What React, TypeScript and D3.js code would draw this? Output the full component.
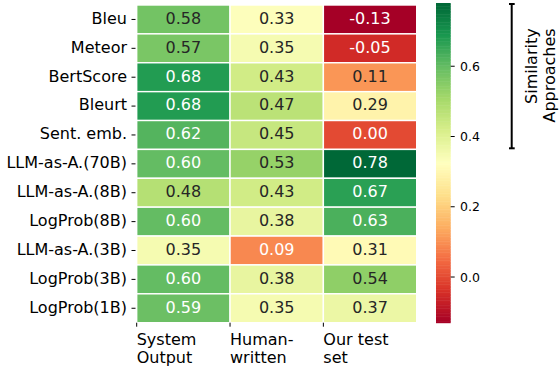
import React from 'react';
import * as d3 from 'd3';

// Row labels (metrics / judges)
const rows = [
  'Bleu',
  'Meteor',
  'BertScore',
  'Bleurt',
  'Sent. emb.',
  'LLM-as-A.(70B)',
  'LLM-as-A.(8B)',
  'LogProb(8B)',
  'LLM-as-A.(3B)',
  'LogProb(3B)',
  'LogProb(1B)',
];

// Column labels (two lines each)
const columns = [
  ['System', 'Output'],
  ['Human-', 'written'],
  ['Our test', 'set'],
];

const systemOutput = [0.58, 0.57, 0.68, 0.68, 0.62, 0.60, 0.48, 0.60, 0.35, 0.60, 0.59];
const humanWritten = [0.33, 0.35, 0.43, 0.47, 0.45, 0.53, 0.43, 0.38, 0.09, 0.38, 0.35];
const ourTestSet = [-0.13, -0.05, 0.11, 0.29, 0.0, 0.78, 0.67, 0.63, 0.31, 0.54, 0.37];

const colorbarTicks = [0.0, 0.2, 0.4, 0.6];

// matplotlib RdYlGn stops
const rdYlGn = [
  '#a50026', '#d73027', '#f46d43', '#fdae61', '#fee08b', '#ffffbf',
  '#d9ef8b', '#a6d96a', '#66bd63', '#1a9850', '#006837',
];

const FONT = 'DejaVu Sans, sans-serif';

// seaborn-style luminance test for the annotation colour
const luminance = (c: string) => {
  const rgb = d3.rgb(c);
  const lin = [rgb.r, rgb.g, rgb.b].map(v => {
    const s = v / 255;
    return s <= 0.03928 ? s / 12.92 : Math.pow((s + 0.055) / 1.055, 2.4);
  });
  return lin[0] * 0.2126 + lin[1] * 0.7152 + lin[2] * 0.0722;
};

const App = () => {
  const width = 560;
  const height = 368;

  const series = [systemOutput, humanWritten, ourTestSet];
  const allVals = series.flat();
  const colorMin = d3.min(allVals)!;
  const colorMax = d3.max(allVals)!;

  const color = d3.scaleLinear<string>()
    .domain(rdYlGn.map((_, i) => colorMin + (i / (rdYlGn.length - 1)) * (colorMax - colorMin)))
    .range(rdYlGn)
    .interpolate(d3.interpolateRgb)
    .clamp(true);

  const x = d3.scaleBand<number>()
    .domain(columns.map((_, i) => i))
    .range([136.7, 416.7]);

  const y = d3.scaleBand<string>()
    .domain(rows)
    .range([5, 322.7]);

  // colorbar
  const cbar = { x: 436, w: 14.7 };
  const cy = d3.scaleLinear().domain([colorMin, colorMax]).range([322.7, 3]);
  const steps = 200;
  const stepH = (colorMax - colorMin) / steps;
  const stepVals = d3.range(steps).map(i => colorMin + i * stepH);

  return (
    <svg width={width} height={height} style={{ position: 'absolute', left: 0, top: 0 }} fontFamily={FONT}>
      <rect width={width} height={height} fill="#fff" />

      {/* heatmap cells */}
      {series.map((vals, ci) =>
        vals.map((v, ri) => {
          const fill = color(v);
          const cx = x(ci)! + x.bandwidth() / 2;
          const yc = y(rows[ri])! + y.bandwidth() / 2;
          return (
            <g key={`${ci}-${ri}`}>
              <rect
                x={x(ci)}
                y={y(rows[ri])}
                width={x.bandwidth()}
                height={y.bandwidth()}
                fill={fill}
                stroke="#fff"
                strokeWidth={1.4}
              />
              <text
                x={cx}
                y={yc + 4.3}
                textAnchor="middle"
                fontSize={16}
                fill={luminance(fill) > 0.42 ? '#262626' : '#fff'}
              >
                {v.toFixed(2)}
              </text>
            </g>
          );
        })
      )}

      {/* y axis */}
      {rows.map(r => {
        const yc = y(r)! + y.bandwidth() / 2;
        return (
          <g key={r}>
            <line x1={131.5} x2={135.5} y1={yc} y2={yc} stroke="#000" strokeWidth={1} />
            <text x={127} y={yc + 4.3} textAnchor="end" fontSize={16} fill="#000">
              {r}
            </text>
          </g>
        );
      })}

      {/* x axis: ticks at the left edge of each column, labels left aligned */}
      {columns.map((lines, i) => {
        const tx = x(i)!;
        return (
          <g key={i}>
            <line x1={tx} x2={tx} y1={322.7} y2={326.7} stroke="#000" strokeWidth={1} />
            {lines.map((l, li) => (
              <text key={li} x={tx} y={345 + li * 17.5} fontSize={16} fill="#000">
                {l}
              </text>
            ))}
          </g>
        );
      })}

      {/* colorbar */}
      {stepVals.map((v, i) => (
        <rect
          key={i}
          x={cbar.x}
          y={cy(v + stepH)}
          width={cbar.w}
          height={cy(v) - cy(v + stepH) + 0.5}
          fill={color(v + stepH / 2)}
        />
      ))}
      {colorbarTicks.map(t => (
        <g key={t}>
          <line x1={cbar.x + cbar.w} x2={cbar.x + cbar.w + 4} y1={cy(t)} y2={cy(t)} stroke="#000" strokeWidth={1} />
          <text x={460} y={cy(t) + 4.5} fontSize={12.5} fill="#000">
            {t.toFixed(1)}
          </text>
        </g>
      ))}

      {/* bracket with rotated label */}
      <g stroke="#000" strokeWidth={2}>
        <line x1={511.7} x2={511.7} y1={4} y2={148.3} />
        <line x1={509} x2={514.7} y1={4} y2={4} />
        <line x1={509} x2={514.7} y1={148.3} y2={148.3} />
      </g>
      <text transform="translate(536.7,28.3) rotate(-90)" textAnchor="end" fontSize={16} fill="#000">
        Similarity
      </text>
      <text transform="translate(555.2,28.3) rotate(-90)" textAnchor="end" fontSize={16} fill="#000">
        Approaches
      </text>
    </svg>
  );
};

export default App;
